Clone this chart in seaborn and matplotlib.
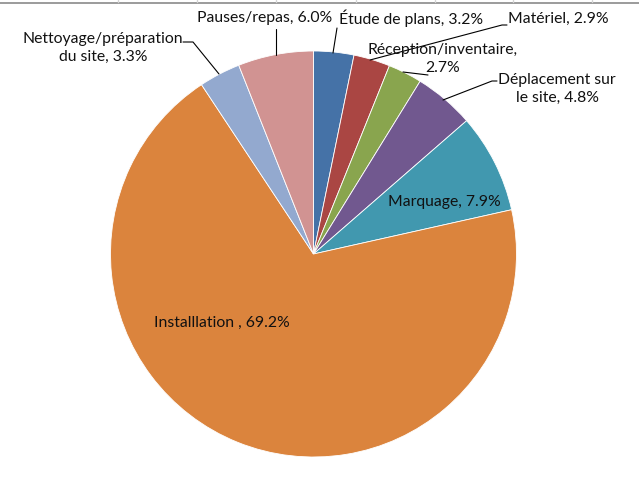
import matplotlib
matplotlib.use("Agg")
import matplotlib.pyplot as plt
import seaborn as sns
from matplotlib.lines import Line2D

# ---- data ----
categories = ["Étude de plans", "Matériel", "Réception/inventaire",
              "Déplacement sur le site", "Marquage", "Installlation ",
              "Nettoyage/préparation du site", "Pauses/repas"]
shares = [3.2, 2.9, 2.7, 4.8, 7.9, 69.2, 3.3, 6.0]
label_texts = ["Étude de plans, 3.2%", "Matériel, 2.9%",
               "Réception/inventaire,\n2.7%", "Déplacement sur\nle site, 4.8%",
               "Marquage, 7.9%", "Installlation , 69.2%",
               "Nettoyage/préparation\ndu site, 3.3%", "Pauses/repas, 6.0%"]
colors = ["#4572A7", "#AA4643", "#89A54E", "#71588F",
          "#4198AF", "#DB843D", "#93A9CF", "#D19392"]

sns.set_theme(style="white")
plt.rcParams["font.family"] = ["Lato", "DejaVu Sans"]
palette = sns.color_palette(colors)

W, H = 639, 504
fig = plt.figure(figsize=(W / 100, H / 100), dpi=100)
cx, cy, R = 313.5, 254, 203
ax = fig.add_axes([(cx - R) / W, (H - cy - R) / H, 2 * R / W, 2 * R / H])
ax.pie(shares, colors=palette, startangle=90, counterclock=False,
       wedgeprops=dict(edgecolor="white", linewidth=0.6))
ax.set_xlim(-1, 1)
ax.set_ylim(-1, 1)
ax.set_aspect("equal")
ax.axis("off")

def d(px, py):
    return ((px - cx) / R, (cy - py) / R)

# label placements (pixel space) and leader lines
label_pos = [(411, 18), (558, 19), (443, 59), (557, 89),
             (444, 202), (222, 323), (103, 48), (265, 18)]
leaders = [
    [(337, 28), (333, 53)],
    [(507, 25), (502, 25), (370, 60)],
    [(428, 75), (403, 72)],
    [(497, 81), (492, 81), (443, 100)],
    None,
    None,
    [(183, 42), (193, 42), (219, 74)],
    [(276, 29), (276, 55)],
]
txt_color = "#111111"
for txt, (px, py), ld in zip(label_texts, label_pos, leaders):
    x, y = d(px, py)
    ax.text(x, y, txt, ha="center", va="center", fontsize=11.3,
            color=txt_color, linespacing=1.4, clip_on=False)
    if ld:
        pts = [d(*p) for p in ld]
        ax.plot([p[0] for p in pts], [p[1] for p in pts], color="black",
                lw=0.8, clip_on=False)

# spreadsheet gridline remnants at the top
fig.add_artist(Line2D([0, 1], [1 - 2.5 / H, 1 - 2.5 / H], color="#8a8a8a", lw=1.2))
for gx in [118, 197, 276, 356, 435, 513, 592]:
    fig.add_artist(Line2D([gx / W, gx / W], [1 - 2 / H, 1], color="#d4d4d4", lw=1))

fig.savefig("out.png", dpi=100)
